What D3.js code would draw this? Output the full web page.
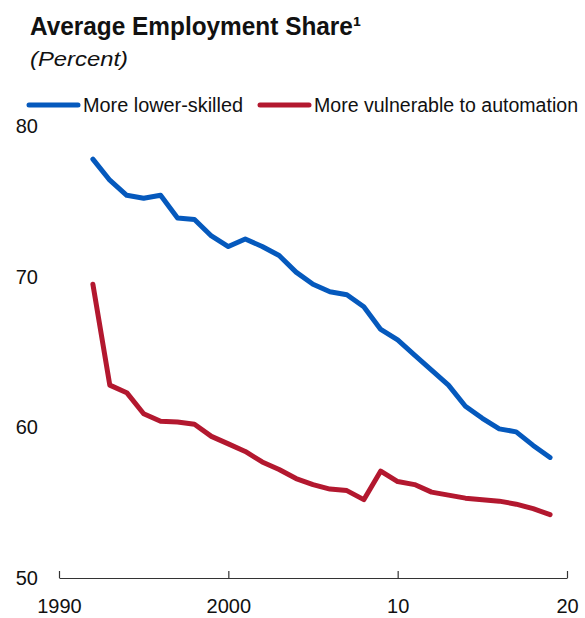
<!DOCTYPE html>
<html>
<head>
<meta charset="UTF-8">
<title>Average Employment Share</title>
<script src="https://cdn.jsdelivr.net/npm/d3@7"></script>
<style>
body { margin: 0; background: #fff; }
svg { font-family: "Liberation Sans", Arial, sans-serif; }
.series { fill: none; stroke-width: 5px; stroke-linejoin: round; stroke-linecap: round; }
.axis path, .axis line { stroke: #333; stroke-width: 1.2px; }
.axis text { font-size: 20px; fill: #111; }
</style>
</head>
<body>
<svg width="585" height="618"></svg>
<script>
var years = d3.range(1992, 2020);
var lowerSkilled = [77.8, 76.4, 75.4, 75.2, 75.4, 73.9, 73.8, 72.7, 72.0, 72.5,
  72.0, 71.4, 70.3, 69.5, 69.0, 68.8, 68.0, 66.5, 65.8, 64.8,
  63.8, 62.8, 61.4, 60.6, 59.9, 59.7, 58.8, 58.0];
var vulnerable = [69.5, 62.8, 62.3, 60.9, 60.4, 60.35, 60.2, 59.4, 58.9, 58.4,
  57.7, 57.2, 56.6, 56.2, 55.9, 55.8, 55.2, 57.1, 56.4, 56.2,
  55.7, 55.5, 55.3, 55.2, 55.1, 54.9, 54.6, 54.2];
var seriesNames = ["More lower-skilled", "More vulnerable to automation"];
var seriesColors = ["#0559bd", "#b3182f"];
var xTicks = [1990, 2000, 2010, 2020];
var xTickLabels = ["1990", "2000", "10", "20"];
var yTicks = [50, 60, 70, 80];

var svg = d3.select("svg");

var x = d3.scaleLinear().domain([1990, 2020]).range([59, 567]);
var y = d3.scaleLinear().domain([50, 80]).range([578, 126]);

// title (footnote mark as a superscript character)
svg.append("text")
    .attr("x", 30).attr("y", 35)
    .attr("font-size", 26).attr("font-weight", "bold").attr("fill", "#111")
    .attr("textLength", 331).attr("lengthAdjust", "spacingAndGlyphs")
    .text("Average Employment Share\u00b9");

svg.append("text")
    .attr("x", 30).attr("y", 66)
    .attr("font-size", 21).attr("font-style", "italic").attr("fill", "#111")
    .attr("textLength", 98).attr("lengthAdjust", "spacingAndGlyphs")
    .text("(Percent)");

// legend
var legendX = [27, 258];
var legendW = [160, 264];
seriesNames.forEach(function(name, i) {
  var g = svg.append("g").attr("transform", "translate(" + legendX[i] + ",105)");
  g.append("line")
      .attr("x1", 2).attr("x2", 51)
      .attr("stroke", seriesColors[i]).attr("stroke-width", 5).attr("stroke-linecap", "round");
  g.append("text")
      .attr("x", 56).attr("y", 7)
      .attr("font-size", 20).attr("fill", "#111")
      .attr("textLength", legendW[i]).attr("lengthAdjust", "spacingAndGlyphs")
      .text(name);
});

// y labels (no axis line)
svg.append("g").selectAll("text")
  .data(yTicks)
  .enter().append("text")
    .attr("x", 38).attr("y", function(d) { return y(d); })
    .attr("dy", "0.35em")
    .attr("text-anchor", "end")
    .attr("font-size", 20).attr("fill", "#111")
    .text(function(d) { return d; });

// x axis
var xAxis = d3.axisTop(x)
    .tickValues(xTicks)
    .tickSize(7)
    .tickSizeOuter(0)
    .tickFormat(function(d, i) { return xTickLabels[i]; });

var gx = svg.append("g")
    .attr("class", "axis")
    .attr("transform", "translate(0," + y(50) + ")")
    .call(xAxis);
gx.selectAll("text")
    .attr("y", 28)
    .attr("dy", "0.35em")
    .attr("font-family", "Liberation Sans, Arial, sans-serif");

// lines
var line = d3.line()
    .x(function(d, i) { return x(years[i]); })
    .y(function(d) { return y(d); });

[lowerSkilled, vulnerable].forEach(function(vals, i) {
  svg.append("path")
      .datum(vals)
      .attr("class", "series")
      .attr("stroke", seriesColors[i])
      .attr("d", line);
});
</script>
</body>
</html>
